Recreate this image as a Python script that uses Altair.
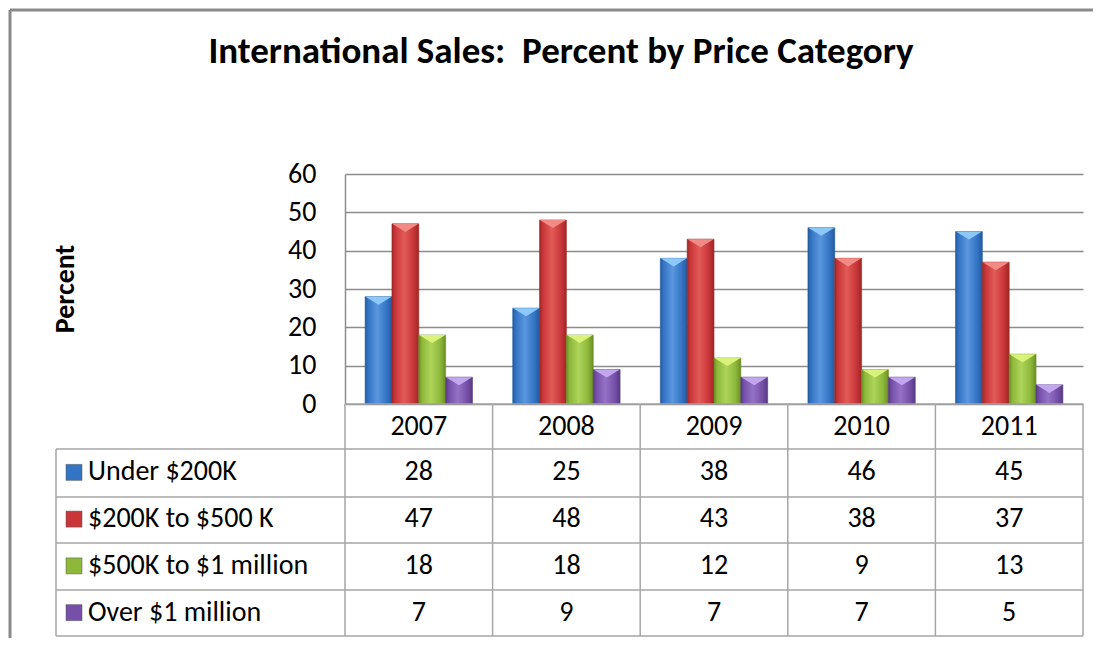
import altair as alt
import pandas as pd

# ---- data ----
years = ["2007", "2008", "2009", "2010", "2011"]
series_names = ["Under $200K", "$200K to $500 K", "$500K to $1 million", "Over $1 million"]
under_200k = [28, 25, 38, 46, 45]
k200_to_500k = [47, 48, 43, 38, 37]
k500_to_1m = [18, 18, 12, 9, 13]
over_1m = [7, 9, 7, 7, 5]
all_values = [under_200k, k200_to_500k, k500_to_1m, over_1m]

rows = []
for s, vals in zip(series_names, all_values):
    for y, v in zip(years, vals):
        rows.append({"year": y, "series": s, "value": v})
df = pd.DataFrame(rows)

# ---- style ----
FONT = "Carlito, Liberation Sans Narrow, Arial Narrow, Liberation Sans, sans-serif"
FS = 28
GRID = "#8C8C8C"
TABLE = "#A6A6A6"
W, H = 738, 230
TABLE_TOP, TABLE_BOTTOM = 275, 462
LABEL_LEFT = -289

palette = {
    # dark edge, main, light, top facet
    "Under $200K": ("#245A9E", "#3474C4", "#5B97E0", "#8CC8F8"),
    "$200K to $500 K": ("#9E2724", "#C9363A", "#E25B58", "#F28A86"),
    "$500K to $1 million": ("#6A8E24", "#8DB83A", "#AED45A", "#D8F27A"),
    "Over $1 million": ("#573A83", "#7650A8", "#9572C6", "#C2A6F0"),
}

n = len(series_names)
pad_outer = 0.75
band = W / len(years)
bar_w = band / (n + 2 * pad_outer)

x_enc = alt.X("year:N", sort=years, axis=None,
              scale=alt.Scale(domain=years, paddingInner=0, paddingOuter=0))
xoff_enc = alt.XOffset("series:N", sort=series_names,
                       scale=alt.Scale(domain=series_names, paddingInner=0, paddingOuter=pad_outer))

layers = []
one = alt.Data(values=[{"a": 1}])

# frame lines (outer border of the picture)
layers.append(alt.Chart(one).mark_rule(color="#8A8A8A", strokeWidth=3).encode(
    x=alt.value(-335), x2=alt.value(W + 20), y=alt.value(-164)))
layers.append(alt.Chart(one).mark_rule(color="#8A8A8A", strokeWidth=3).encode(
    x=alt.value(-335), y=alt.value(-164), y2=alt.value(H + 240)))

for i, s in enumerate(series_names):
    dark, main, light, top = palette[s]
    grad = alt.Gradient(gradient="linear", x1=0, x2=1, y1=0, y2=0, stops=[
        alt.GradientStop(offset=0, color=dark),
        alt.GradientStop(offset=0.12, color=main),
        alt.GradientStop(offset=0.45, color=light),
        alt.GradientStop(offset=0.8, color=main),
        alt.GradientStop(offset=1, color=dark),
    ])
    y_axis = None
    if i == 0:
        y_axis = alt.Axis(values=[0, 10, 20, 30, 40, 50, 60], grid=True, gridColor=GRID,
                          gridWidth=1.5, domain=True, domainColor=GRID, domainWidth=1.5,
                          ticks=False, labelFontSize=FS, labelFont=FONT, labelColor="#000000",
                          labelPadding=29, title=None)
    y_enc = alt.Y("value:Q", scale=alt.Scale(domain=[0, 60], nice=False), axis=y_axis)
    base = alt.Chart(df).transform_filter(alt.datum.series == s)
    layers.append(base.mark_bar(color=grad, stroke=dark, strokeWidth=0.6).encode(
        x=x_enc, xOffset=xoff_enc, y=y_enc))
    layers.append(base.mark_point(shape="M-1,0L1,0L0,0.62Z", filled=True, size=bar_w ** 2 * 0.95,
                                  color=top, opacity=1, strokeWidth=0).encode(
        x=x_enc, xOffset=xoff_enc,
        y=alt.Y("value:Q", scale=alt.Scale(domain=[0, 60], nice=False), axis=None)))

# table lines
hlines = [(0, 230), (LABEL_LEFT, 275), (LABEL_LEFT, 323), (LABEL_LEFT, 369), (LABEL_LEFT, 416), (LABEL_LEFT, 462)]
for x0, yy in hlines:
    layers.append(alt.Chart(one).mark_rule(color=TABLE, strokeWidth=1.5).encode(
        x=alt.value(x0), x2=alt.value(W), y=alt.value(yy)))
layers.append(alt.Chart(one).mark_rule(color=TABLE, strokeWidth=1.5).encode(
    x=alt.value(LABEL_LEFT), y=alt.value(TABLE_TOP), y2=alt.value(TABLE_BOTTOM)))
layers.append(alt.Chart(one).mark_rule(color=TABLE, strokeWidth=1.5).encode(
    x=alt.value(W), y=alt.value(230), y2=alt.value(TABLE_BOTTOM)))
layers.append(alt.Chart(pd.DataFrame({"year": years})).mark_rule(color=TABLE, strokeWidth=1.5).encode(
    x=alt.X("year:N", sort=years, axis=None, bandPosition=0,
            scale=alt.Scale(domain=years, paddingInner=0, paddingOuter=0)),
    y=alt.value(230), y2=alt.value(TABLE_BOTTOM)))

# year header labels
layers.append(alt.Chart(pd.DataFrame({"year": years})).mark_text(
    font=FONT, fontSize=FS, color="#000000", baseline="middle", align="center").encode(
    x=x_enc, y=alt.value(253), text="year:N"))

row_scale = alt.Scale(type="point", domain=series_names, range=[TABLE_TOP, TABLE_BOTTOM], padding=0.5)

# table values
layers.append(alt.Chart(df).mark_text(
    font=FONT, fontSize=FS, color="#000000", baseline="middle", align="center").encode(
    x=x_enc, y=alt.Y("series:N", scale=row_scale, axis=None), text="value:Q"))

# legend keys and labels
key_colors = [palette[s][1] for s in series_names]
legend_df = pd.DataFrame({"series": series_names})
layers.append(alt.Chart(legend_df).mark_square(size=256, opacity=1, stroke="#555555", strokeWidth=0.5).encode(
    x=alt.value(-271), y=alt.Y("series:N", scale=row_scale, axis=None),
    color=alt.Color("series:N", scale=alt.Scale(domain=series_names, range=key_colors), legend=None)))
layers.append(alt.Chart(legend_df).mark_text(
    font=FONT, fontSize=FS, color="#000000", baseline="middle", align="left").encode(
    x=alt.value(-257), y=alt.Y("series:N", scale=row_scale, axis=None), text="series:N"))

# title and axis title
layers.append(alt.Chart(alt.Data(values=[{"t": "International Sales:\u00a0 Percent by Price Category"}])).mark_text(
    font=FONT, fontSize=37, fontWeight="bold", color="#000000", align="center", baseline="middle").encode(
    x=alt.value(216), y=alt.value(-122), text="t:N"))
layers.append(alt.Chart(alt.Data(values=[{"t": "Percent"}])).mark_text(
    font=FONT, fontSize=FS, fontWeight="bold", color="#000000", align="center", baseline="middle",
    angle=270).encode(x=alt.value(-279), y=alt.value(115), text="t:N"))

chart = alt.layer(*layers).resolve_scale(y="independent").properties(
    width=W, height=H,
    autosize=alt.AutoSizeParams(type="none"),
    padding={"left": 337, "top": 166, "right": 10, "bottom": 234},
    background="white",
).configure_view(stroke=None)

chart.save("out.html", embed_options={"renderer": "svg", "actions": False})
